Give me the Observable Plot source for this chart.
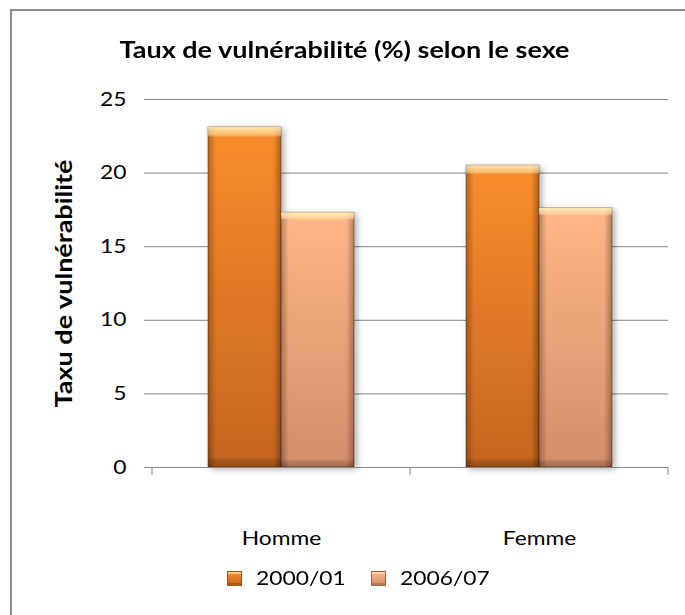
<!DOCTYPE html>
<html>
<head>
<meta charset="utf-8">
<script src="https://cdn.jsdelivr.net/npm/d3@7"></script>
<script src="https://cdn.jsdelivr.net/npm/@observablehq/plot@0.6"></script>
<style>
  body { margin: 0; background: #fff; font-family: Lato, "Open Sans", sans-serif; }
  #frame {
    position: absolute; left: 10px; top: 9px; width: 675px; height: 606px;
    border-top: 2px solid #8c8c8c; border-left: 2px solid #8c8c8c;
    box-sizing: border-box; overflow: hidden;
  }
  #title {
    height: 40px; line-height: 40px; padding-top: 19px;
    text-align: center; font-weight: bold; font-size: 22.5px; color: #000;
    padding-right: 7px; white-space: nowrap;
  }
  #title span { display: inline-block; transform: scaleX(1.2); transform-origin: center; }
  #chart svg { display: block; overflow: visible; }
  #legend { position: relative; height: 36px; font-size: 19px; color: #000; }
  .swatch { position: absolute; top: 11px; width: 15px; height: 15px; box-sizing: border-box; }
  .label { position: absolute; top: 0; line-height: 36px; white-space: nowrap; transform: scaleX(1.2); transform-origin: left center; }
</style>
</head>
<body>
<div id="frame">
  <div id="title"><span></span></div>
  <div id="chart"></div>
  <div id="legend"></div>
</div>
<script>
// Vulnerability rate (%) by sex, two survey rounds
const sexes = ["Homme", "Femme"];
const years = ["2000/01", "2006/07"];
const rate2000 = [23.1, 20.5];
const rate2006 = [17.3, 17.6];
const yTicks = [0, 5, 10, 15, 20, 25];
const title = "Taux de vulnérabilité (%) selon le sexe";
const yLabel = "Taxu de vulnérabilité";

// bevelled fills: base gradient per series
const seriesFill = {
  "2000/01": {top: "#fa8d2b", bottom: "#c5651f", id: "fill-a"},
  "2006/07": {top: "#ffb787", bottom: "#d48d6a", id: "fill-b"}
};

const rows = sexes.flatMap((s, i) => [
  {sex: s, year: years[0], value: rate2000[i]},
  {sex: s, year: years[1], value: rate2006[i]}
]);

const grey = "#868686";
const stretch = 1.2; // wide lettering of the labels

const chart = Plot.plot({
  width: 673,
  height: 490,
  marginLeft: 140,
  marginRight: 17,
  marginTop: 29,
  marginBottom: 93,
  style: {fontFamily: "Lato, 'Open Sans', sans-serif", fontSize: "19px", color: "#000", background: "transparent"},
  fx: {domain: sexes, padding: 0, label: null},
  x: {domain: years, paddingInner: 0, paddingOuter: 0.75, axis: null},
  y: {domain: [0, 25], label: null},
  color: {domain: years, range: years.map(y => `url(#${seriesFill[y].id})`)},
  marks: [
    Plot.gridY(yTicks, {stroke: grey, strokeOpacity: 1}),
    Plot.barY(rows, {fx: "sex", x: "year", y: "value", fill: "year", stroke: "#6e3c1a", strokeOpacity: 0.55, strokeWidth: 1}),
    Plot.barY(rows, {fx: "sex", x: "year", y: "value", fill: "url(#bevel-side)"}),
    Plot.barY(rows, {fx: "sex", x: "year", y: "value", fill: "url(#bevel-top)"}),
    Plot.ruleY([0], {stroke: grey}),
    Plot.axisY(yTicks, {tickSize: 8, tickPadding: 18, stroke: grey, fill: "#000", label: null, line: true}),
    Plot.axisFx({anchor: "bottom", tickSize: 0, tickPadding: 64, label: null, fill: "#000"}),
    Plot.text([yLabel], {fx: ["Homme"], frameAnchor: "left", textAnchor: "middle", rotate: -90, dx: -88, fontWeight: "bold", fontSize: 22.5, fill: "#000"})
  ]
});

document.querySelector("#title span").textContent = title;
document.getElementById("chart").append(chart);

const svg = d3.select(chart);
const defs = svg.insert("defs", ":first-child");

function gradient(id, vertical, stops) {
  const g = defs.append("linearGradient").attr("id", id)
    .attr("x1", 0).attr("y1", 0)
    .attr("x2", vertical ? 0 : 1).attr("y2", vertical ? 1 : 0);
  for (const [offset, color, opacity] of stops) {
    g.append("stop").attr("offset", offset).attr("stop-color", color).attr("stop-opacity", opacity ?? 1);
  }
}
for (const y of years) {
  const f = seriesFill[y];
  gradient(f.id, true, [[0, f.top], [1, f.bottom]]);
}
gradient("bevel-side", false, [
  [0, "#000", 0.28], [0.09, "#000", 0.05], [0.11, "#000", 0],
  [0.89, "#000", 0], [0.91, "#000", 0.05], [1, "#000", 0.3]
]);
gradient("bevel-top", true, [
  [0, "#fff6c8", 0.85], [0.022, "#ffe8a8", 0.55], [0.03, "#fff", 0],
  [0.97, "#000", 0], [0.978, "#000", 0.12], [1, "#000", 0.25]
]);

// soft shadow behind the bars
svg.selectAll('rect[fill^="url(#fill-"]').style("filter", "drop-shadow(3px 2px 3px rgba(0,0,0,0.3))");

// widen every label about its own anchor point
svg.selectAll("text").each(function() {
  const x = +this.getAttribute("x") || 0;
  const y = +this.getAttribute("y") || 0;
  const t = this.getAttribute("transform") || "";
  this.setAttribute("transform", `${t} translate(${x},${y}) scale(${stretch},1) translate(${-x},${-y})`);
});

// category-axis tick marks at the band edges
const fxScale = chart.scale("fx");
const yScale = chart.scale("y");
if (fxScale && yScale) {
  const y0 = yScale.apply(0);
  const edges = [...sexes.map(s => fxScale.apply(s)), fxScale.apply(sexes[sexes.length - 1]) + fxScale.bandwidth];
  svg.append("g").attr("stroke", grey)
    .selectAll("line").data(edges).join("line")
    .attr("x1", d => d).attr("x2", d => d)
    .attr("y1", y0).attr("y2", y0 + 8);
}

// legend
const legend = d3.select("#legend");
const legendPos = [[215, 244], [359, 388]]; // swatch and label left edges
years.forEach((y, i) => {
  const f = seriesFill[y];
  legend.append("div").attr("class", "swatch")
    .style("left", legendPos[i][0] + "px")
    .style("background", `linear-gradient(${f.top}, ${f.bottom})`)
    .style("border", "1px solid rgba(110,60,26,0.6)")
    .style("box-shadow", "inset 0 2px 0 rgba(255,240,200,0.6), inset 0 -2px 0 rgba(0,0,0,0.15)");
  legend.append("div").attr("class", "label")
    .style("left", legendPos[i][1] + "px")
    .text(y);
});
</script>
</body>
</html>
